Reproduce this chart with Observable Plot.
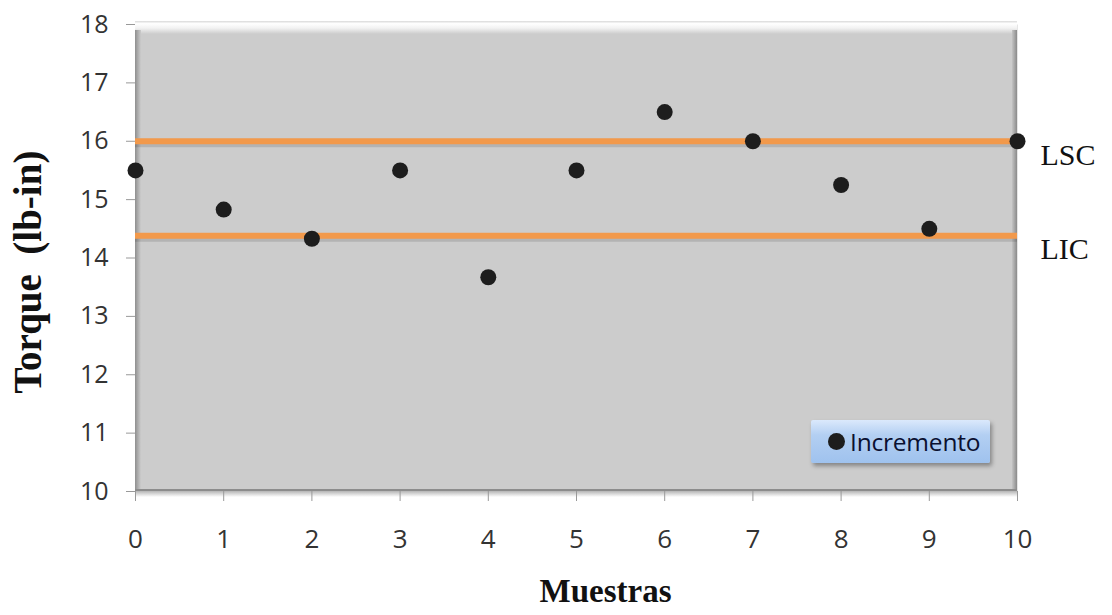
<!DOCTYPE html>
<html>
<head>
<meta charset="utf-8">
<script src="https://cdn.jsdelivr.net/npm/d3@7"></script>
<script src="https://cdn.jsdelivr.net/npm/@observablehq/plot@0.6"></script>
<style>
  html, body { margin: 0; padding: 0; background: #fff; }
  #wrap { position: relative; width: 1112px; height: 615px; overflow: hidden; }
  #legend {
    position: absolute; left: 811px; top: 420px; width: 179px; height: 43px;
    background: linear-gradient(#dbe9fc 0%, #b3cff2 35%, #9fc2ee 100%);
    box-shadow: 2px 3px 4px rgba(0,0,0,0.35);
    border-radius: 2px;
    font-family: "Open Sans", sans-serif; font-size: 24.5px; color: #0a1030; letter-spacing: -0.2px;
    display: flex; align-items: center; box-sizing: border-box; padding-left: 17px;
  }
  #legend .dot { width: 17px; height: 17px; border-radius: 50%; background: #1d1d1d; margin-right: 5px; }
</style>
</head>
<body>
<div id="wrap"></div>
<script>
// ---- data ----
const muestras = [0, 1, 2, 3, 4, 5, 6, 7, 8, 9, 10];
const torque   = [15.5, 14.83, 14.33, 15.5, 13.67, 15.5, 16.5, 16.0, 15.25, 14.5, 16.0];
const limitNames  = ["LSC", "LIC"];
const limitValues = [16.0, 14.38];
const xTicks = [0, 1, 2, 3, 4, 5, 6, 7, 8, 9, 10];
const yTicks = [10, 11, 12, 13, 14, 15, 16, 17, 18];
const seriesName = "Incremento";
const xTitle = "Muestras";
const yTitle = "Torque  (lb-in)";

const points = muestras.map((m, i) => ({x: m, y: torque[i]}));
const limits = limitNames.map((n, i) => ({name: n, y: limitValues[i]}));

const serif = "'Liberation Serif', 'Times New Roman', serif";

const chart = Plot.plot({
  width: 1112,
  height: 615,
  marginLeft: 135,
  marginRight: 95,
  marginTop: 24,
  marginBottom: 124,
  style: {fontFamily: "'Open Sans', sans-serif", fontSize: "25px", color: "#333", background: "transparent", overflow: "visible"},
  x: {domain: [0, 10]},
  y: {domain: [10, 18]},
  marks: [
    Plot.frame({fill: "#cccccc", stroke: null}),
    Plot.axisY({ticks: yTicks, tickSize: 9, tickPadding: 18, label: null, stroke: "#999", fill: "#333", fontSize: 25}),
    Plot.axisX({ticks: xTicks, tickSize: 10, tickPadding: 28, label: null, stroke: "#999", fill: "#333", fontSize: 26}),
    Plot.ruleY(limits, {y: "y", stroke: "rgba(0,0,0,0.12)", strokeWidth: 4, dy: 4}),
    Plot.ruleY(limits, {y: "y", stroke: "#f2994b", strokeWidth: 6}),
    Plot.dot(points, {x: "x", y: "y", r: 8, fill: "#1d1d1d", stroke: null}),
    Plot.text(limits, {x: () => 10, y: "y", text: "name", textAnchor: "start", dx: 23, dy: 14,
      fontFamily: serif, fontSize: 30, fill: "#111"}),
    Plot.text([xTitle], {frameAnchor: "bottom", dx: 29, dy: 110, fontFamily: serif, fontWeight: "bold", fontSize: 33, fill: "#111"}),
    Plot.text([yTitle], {frameAnchor: "left", textAnchor: "middle", dx: -107, dy: 14, rotate: -90, fontFamily: serif, fontWeight: "bold", fontSize: 39, fill: "#111"})
  ]
});

document.getElementById("wrap").appendChild(chart);

// enlarge tick labels (force on every text of the axis groups)
d3.select(chart).selectAll("g").filter(function() {
  const a = this.getAttribute("aria-label") || "";
  return a.indexOf("tick label") >= 0;
}).each(function() {
  const isX = (this.getAttribute("aria-label") || "").indexOf("x-axis") === 0;
  d3.select(this).attr("font-size", isX ? 26 : 25);
  d3.select(this).selectAll("text").attr("font-size", isX ? 26 : 25);
});

// bevel decoration on the plotting frame
const sx = chart.scale("x"), sy = chart.scale("y");
const x0 = sx.apply(0), x1 = sx.apply(10), y0 = sy.apply(18), y1 = sy.apply(10);
const svg = d3.select(chart);
const defs = svg.insert("defs", ":first-child");
const gt = defs.append("linearGradient").attr("id", "bevTop").attr("x1", 0).attr("y1", 0).attr("x2", 0).attr("y2", 1);
gt.append("stop").attr("offset", "0%").attr("stop-color", "#d9d9d9");
gt.append("stop").attr("offset", "20%").attr("stop-color", "#ffffff");
gt.append("stop").attr("offset", "55%").attr("stop-color", "#f2f2f2");
gt.append("stop").attr("offset", "100%").attr("stop-color", "#cccccc");
const gl = defs.append("linearGradient").attr("id", "bevLeft").attr("x1", 0).attr("y1", 0).attr("x2", 1).attr("y2", 0);
gl.append("stop").attr("offset", "0%").attr("stop-color", "#8f8f8f");
gl.append("stop").attr("offset", "100%").attr("stop-color", "#cccccc");
const gr = defs.append("linearGradient").attr("id", "bevRight").attr("x1", 0).attr("y1", 0).attr("x2", 1).attr("y2", 0);
gr.append("stop").attr("offset", "0%").attr("stop-color", "#c4c4c4");
gr.append("stop").attr("offset", "100%").attr("stop-color", "#8a8a8a");
const gb = defs.append("linearGradient").attr("id", "bevBot").attr("x1", 0).attr("y1", 0).attr("x2", 0).attr("y2", 1);
gb.append("stop").attr("offset", "0%").attr("stop-color", "#b5b5b5");
gb.append("stop").attr("offset", "100%").attr("stop-color", "#ffffff");

const frameEl = chart.querySelector("rect");
const g = document.createElementNS("http://www.w3.org/2000/svg", "g");
frameEl.parentNode.insertBefore(g, frameEl.nextSibling);
const bg = d3.select(g);
bg.append("rect").attr("x", x0).attr("y", y0 - 3).attr("width", x1 - x0).attr("height", 13).attr("fill", "url(#bevTop)");
bg.append("rect").attr("x", x0).attr("y", y0 + 6).attr("width", 6).attr("height", y1 - y0 - 6).attr("fill", "url(#bevLeft)");
bg.append("rect").attr("x", x1 - 5).attr("y", y0 + 6).attr("width", 5).attr("height", y1 - y0 - 6).attr("fill", "url(#bevRight)");
bg.append("rect").attr("x", x0).attr("y", y1 - 2).attr("width", x1 - x0).attr("height", 2).attr("fill", "#8c8c8c");
bg.append("rect").attr("x", x0).attr("y", y1).attr("width", x1 - x0).attr("height", 6).attr("fill", "url(#bevBot)");

// legend
const lg = document.createElement("div");
lg.id = "legend";
lg.innerHTML = '<span class="dot"></span><span>' + seriesName + '</span>';
document.getElementById("wrap").appendChild(lg);
</script>
</body>
</html>
